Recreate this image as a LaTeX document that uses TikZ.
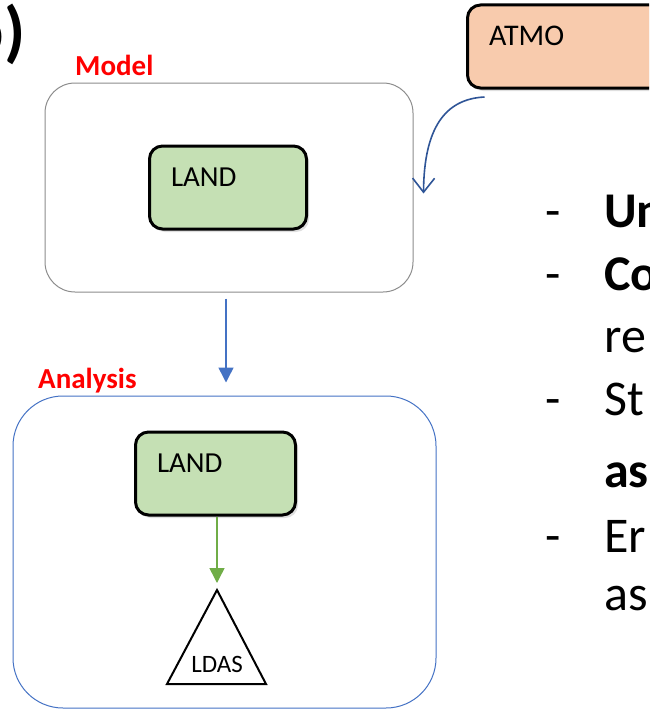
\documentclass[tikz,border=0pt]{standalone}
\usepackage{fontspec}
\setmainfont{Carlito}
\usetikzlibrary{arrows.meta,shadows}
\definecolor{landgreen}{HTML}{C5E0B4}
\definecolor{atmoorange}{HTML}{F8CBAD}
\definecolor{accentblue}{HTML}{4472C4}
\definecolor{darkblue}{HTML}{2F5597}
\definecolor{arrowgreen}{HTML}{70AD47}
\definecolor{framegray}{HTML}{8C8C8C}
\definecolor{labelred}{HTML}{FF0000}

\begin{document}
\begin{tikzpicture}[x=1pt,y=-1pt,
  compbox/.style={draw=black, line width=3pt, rounded corners=13pt,
    inner xsep=21.5pt, inner ysep=0pt, align=left,
    text width=#1, text height=40.5pt, text depth=42.5pt,
    font=\fontsize{29}{31}\selectfont,
    drop shadow={shadow xshift=2.5pt, shadow yshift=-3pt, opacity=0.25}},
  frame/.style={rounded corners=#1, inner sep=0pt},
  grouplabel/.style={anchor=base west, inner sep=0pt, text=labelred,
    font=\fontsize{29}{32}\selectfont\bfseries},
  bullet/.style={anchor=base west, inner sep=0pt,
    font=\fontsize{50}{60}\selectfont},
  flowarrow/.style={line width=1.5pt, -{Triangle[length=15pt,width=15pt]}}
]
\useasboundingbox (0,0) rectangle (649,709);
\clip (0,0) rectangle (649,709);

% panel tag
\node[anchor=base east, inner sep=0pt, font=\fontsize{68}{72}\selectfont\bfseries] (tag) at (25.5,54.5) {b)};

% model group
\node[frame=30pt, draw=framegray, line width=1pt, minimum width=368pt, minimum height=209pt] (model) at (229,187.5) {};
\node[grouplabel] (modellabel) at (75,75) {Model};
\node[compbox=114pt, fill=landgreen] (landa) at (228,187.5) {LAND};

% atmosphere component
\node[compbox=157pt, fill=atmoorange, font=\fontsize{30}{32}\selectfont] (atmo) at (567.5,46.5) {ATMO};

% analysis group
\node[frame=50pt, draw=accentblue, line width=1pt, minimum width=423pt, minimum height=312pt] (analysis) at (224.5,552) {};
\node[grouplabel] (analysislabel) at (38,388) {Analysis};
\node[compbox=117pt, fill=landgreen] (landb) at (215.5,473.5) {LAND};

% LDAS triangle
\coordinate (ldastop) at (217,590);
\draw[line width=2pt, line join=miter] (ldastop) -- (266,684) -- (167,684) -- cycle;
\node[inner sep=0pt, font=\fontsize{25}{28}\selectfont] (ldas) at (217,664) {LDAS};

% connectors
\coordinate (modelin) at ([xshift=10pt,yshift=-6pt]model.east);
\draw[darkblue, line width=1.6pt, -{Straight Barb[length=14pt,width=22pt,line width=1.6pt]}]
  ([xshift=18.5pt,yshift=-7.5pt]atmo.south west) .. controls (445,99) and (424,128) .. (modelin);
\draw[flowarrow, accentblue] ([xshift=-3pt,yshift=-6pt]model.south) -- ([xshift=1.5pt,yshift=13pt]analysis.north);
\draw[flowarrow, arrowgreen, shorten >=7pt] (landb.south -| ldastop) -- (ldastop);

% bullet list on the right
\foreach \y in {227,290,415,552} \node[bullet] at (545,\y) {-};
\node[bullet] (b1) at (604,227) {\bfseries Un};
\node[bullet] (b2) at (604,290) {\bfseries Co};
\node[bullet] (b3) at (604,352) {re};
\node[bullet] (b4) at (604,415) {St};
\node[bullet] (b5) at (604,487) {\bfseries as};
\node[bullet] (b6) at (604,552) {Er};
\node[bullet] (b7) at (604,610) {as};
\end{tikzpicture}
\end{document}
